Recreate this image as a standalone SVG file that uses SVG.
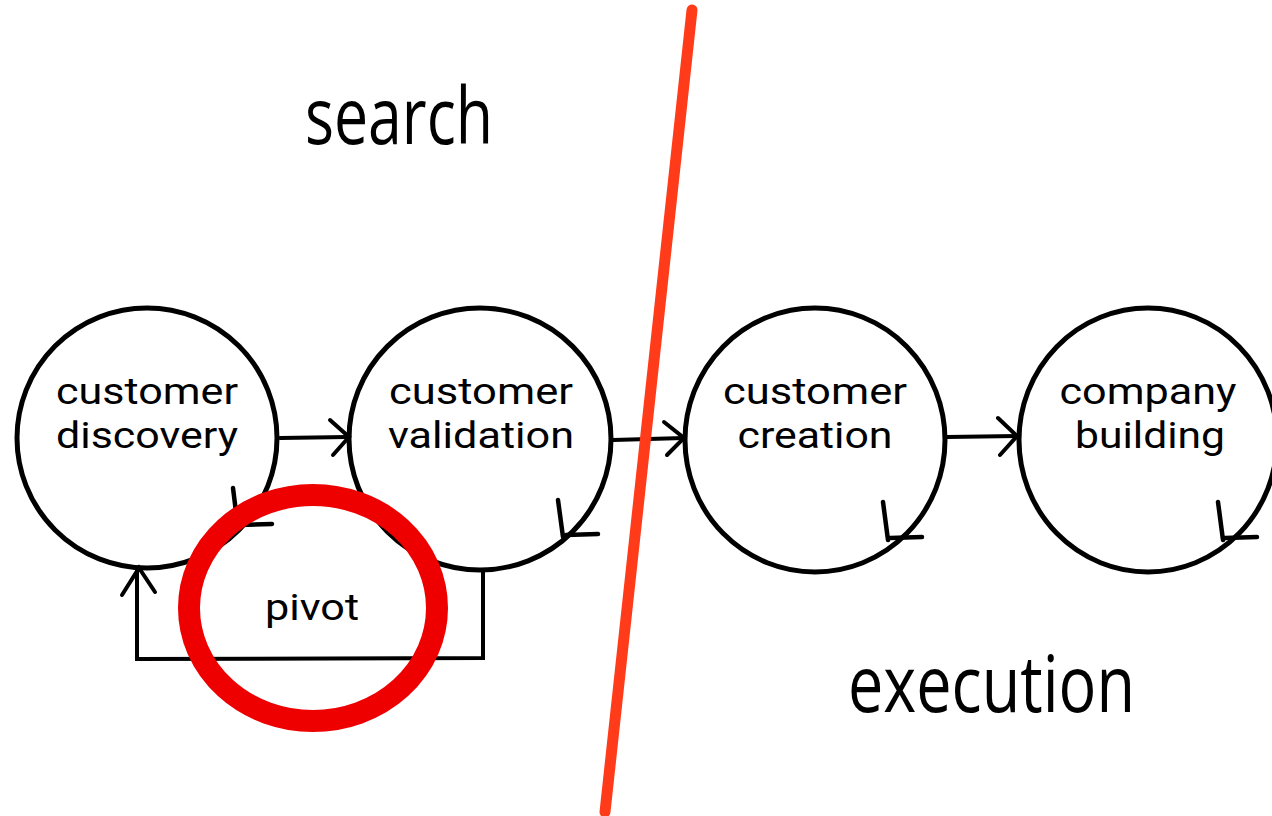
<svg xmlns="http://www.w3.org/2000/svg" width="1272" height="816" viewBox="0 0 1272 816">
<defs>
<style>
.node ellipse{fill:none;stroke:#000;stroke-width:5}
.lbl{font-family:Roboto,"Liberation Sans",sans-serif;font-size:37px;fill:#000;text-anchor:middle}
.big{font-family:"Open Sans","Liberation Sans",sans-serif;font-size:78px;fill:#000}
.conn path{fill:none;stroke:#000;stroke-width:4;stroke-linecap:round;stroke-linejoin:miter}
.loop path{fill:none;stroke:#000;stroke-width:4.5;stroke-linecap:round}
</style>
</defs>
<rect width="1272" height="816" fill="#fff"/>
<text class="big" x="305" y="144" textLength="188" lengthAdjust="spacingAndGlyphs">search</text>
<text class="big" x="848" y="712" textLength="287" lengthAdjust="spacingAndGlyphs">execution</text>
<g id="n1" class="node">
<ellipse cx="147" cy="438" rx="130" ry="130"/>
<text class="lbl" x="147" y="404" textLength="182" lengthAdjust="spacingAndGlyphs">customer</text>
<text class="lbl" x="147" y="448" textLength="182" lengthAdjust="spacingAndGlyphs">discovery</text>
<g class="loop"><path d="M233 488 L236 512"/><path d="M240 525 L272 524"/></g>
</g>
<g id="n2" class="node">
<ellipse cx="480" cy="439" rx="131" ry="131"/>
<text class="lbl" x="481" y="404" textLength="184" lengthAdjust="spacingAndGlyphs">customer</text>
<text class="lbl" x="481" y="448" textLength="186" lengthAdjust="spacingAndGlyphs">validation</text>
<g class="loop"><path d="M558 500 L563 537"/><path d="M566 535 L598 534"/></g>
</g>
<g id="n3" class="node">
<ellipse cx="815" cy="440" rx="130" ry="132"/>
<text class="lbl" x="815" y="404" textLength="184" lengthAdjust="spacingAndGlyphs">customer</text>
<text class="lbl" x="815" y="448" textLength="155" lengthAdjust="spacingAndGlyphs">creation</text>
<g class="loop"><path d="M883 502 L888 540"/><path d="M890 538 L922 537"/></g>
</g>
<g id="n4" class="node">
<ellipse cx="1148" cy="440" rx="129" ry="132"/>
<text class="lbl" x="1148" y="404" textLength="177" lengthAdjust="spacingAndGlyphs">company</text>
<text class="lbl" x="1150" y="448" textLength="150" lengthAdjust="spacingAndGlyphs">building</text>
<g class="loop"><path d="M1218 502 L1223 540"/><path d="M1225 538 L1257 537"/></g>
</g>
<g id="pivot">
<text class="lbl" x="312" y="620" textLength="94" lengthAdjust="spacingAndGlyphs">pivot</text>
</g>
<g id="connectors" class="conn">
<path d="M280 438 L347 437"/><path d="M330 420 L349 437 L333 455"/>
<path d="M613 440 L684 438"/><path d="M664 422 L684 438 L667 455"/>
<path d="M947 437 L1017 436"/><path d="M998 418 L1017 436 L1000 455"/>
<path d="M483 572 L483 658 L137 659 L137 570"/><path d="M122 595 L139 568 L155 592"/>
</g>
<g id="divider">
<path d="M692 10 L605 812" fill="none" stroke="#ff3b1a" stroke-width="11" stroke-linecap="round"/>
</g>
<g id="highlight">
<ellipse cx="313" cy="608" rx="124" ry="113" fill="none" stroke="#ee0000" stroke-width="22"/>
</g>
</svg>
